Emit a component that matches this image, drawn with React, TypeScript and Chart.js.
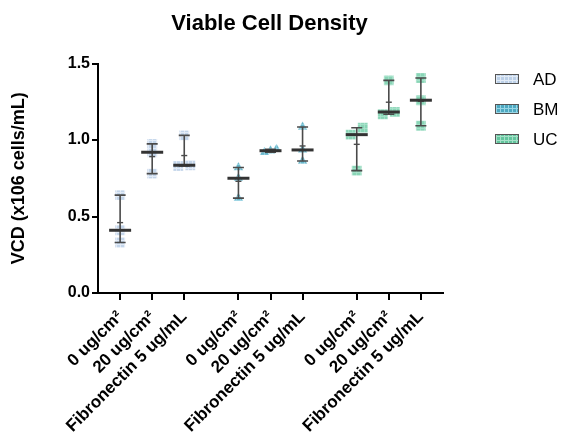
import React, { useEffect, useRef } from 'react';
import { Chart, registerables } from 'chart.js';

Chart.register(...registerables);

const FONT = "'Liberation Sans', Arial, Helvetica, sans-serif";

const CHART_TITLE = 'Viable Cell Density';
const Y_TITLE = 'VCD (x106 cells/mL)';
const SERIES = ['AD', 'BM', 'UC'];
const CATEGORY_LABELS = ['0 ug/cm²', '20 ug/cm²', 'Fibronectin 5 ug/mL'];
const Y_TICKS = [0, 0.5, 1.0, 1.5];

// replicate values per category (0 ug/cm², 20 ug/cm², Fibronectin)
const AD_VALUES = [
  [0.64, 0.41, 0.33],
  [0.975, 0.92, 0.78],
  [1.03, 0.835, 0.83],
];
const BM_VALUES = [
  [0.82, 0.75, 0.62],
  [0.94, 0.93, 0.92],
  [1.085, 0.935, 0.863],
];
const UC_VALUES = [
  [1.08, 1.035, 0.8],
  [1.39, 1.168, 1.183],
  [1.405, 1.26, 1.093],
];

const SERIES_VALUES = [AD_VALUES, BM_VALUES, UC_VALUES];

// styles
const GROUP_GAP = 0.69;
const JITTER_SPREAD = 0.375;
const JITTER_THRESHOLD = 0.05;
const STYLES = [
  { base: 'rgba(188,208,232,0.9)', line: 'rgba(228,236,247,0.9)', legendBase: '#bcd0e8', legendLine: '#e2ebf6', shape: 'rect', radius: 7 },
  { base: 'rgba(78,169,193,0.85)', line: 'rgba(150,212,228,0.85)', legendBase: '#4ea9c1', legendLine: '#98d6e6', shape: 'triangle', radius: 5.5 },
  { base: 'rgba(108,202,164,0.8)', line: 'rgba(170,228,205,0.8)', legendBase: '#63c59d', legendLine: '#a5e0c8', shape: 'rect', radius: 7 },
];

const groupX = (s: number, i: number) => s * (CATEGORY_LABELS.length + GROUP_GAP) + i;

function jitterOffsets(vals: number[]): number[] {
  const idx = vals.map((v, i) => i).sort((a, b) => vals[a] - vals[b]);
  const offs = new Array(vals.length).fill(0);
  let start = 0;
  for (let k = 1; k <= idx.length; k++) {
    if (k === idx.length || vals[idx[k]] - vals[idx[k - 1]] >= JITTER_THRESHOLD) {
      const n = k - start;
      if (n > 1) {
        for (let j = 0; j < n; j++) offs[idx[start + j]] = (j / (n - 1) - 0.5) * JITTER_SPREAD;
      }
      start = k;
    }
  }
  return offs;
}

function stats(vals: number[]) {
  const s = [...vals].sort((a, b) => a - b);
  const n = s.length;
  const median = n % 2 ? s[(n - 1) / 2] : (s[n / 2 - 1] + s[n / 2]) / 2;
  const mean = s.reduce((a, b) => a + b, 0) / n;
  return { min: s[0], max: s[n - 1], median, mean };
}

export default function App() {
  const ref = useRef<HTMLCanvasElement | null>(null);

  useEffect(() => {
    const canvas = ref.current!;
    const ctx0 = canvas.getContext('2d')!;
    const makePattern = (base: string, line: string) => {
      const c = document.createElement('canvas');
      c.width = 4;
      c.height = 4;
      const g = c.getContext('2d')!;
      g.fillStyle = base;
      g.fillRect(0, 0, 4, 4);
      g.fillStyle = line;
      g.fillRect(0, 0, 4, 1);
      g.fillRect(0, 0, 1, 4);
      return ctx0.createPattern(c, 'repeat')!;
    };
    const pointPatterns = STYLES.map((st) => makePattern(st.base, st.line));
    const legendPatterns = STYLES.map((st) => makePattern(st.legendBase, st.legendLine));

    const datasets = SERIES.map((name, s) => {
      const data: { x: number; y: number }[] = [];
      SERIES_VALUES[s].forEach((vals, i) => {
        const offs = jitterOffsets(vals);
        vals.forEach((v, k) => data.push({ x: groupX(s, i) + offs[k], y: v }));
      });
      return {
        label: name,
        data,
        showLine: false,
        pointStyle: STYLES[s].shape as any,
        pointRadius: STYLES[s].radius,
        pointBackgroundColor: pointPatterns[s],
        pointBorderColor: 'rgba(255,255,255,0.4)',
        pointBorderWidth: 0.5,
      };
    });

    const tickPositions: number[] = [];
    const tickLabels: string[] = [];
    SERIES.forEach((_, s) =>
      CATEGORY_LABELS.forEach((lab, i) => {
        tickPositions.push(groupX(s, i));
        tickLabels.push(lab);
      })
    );
    const xMin = -GROUP_GAP;
    const xMax = groupX(SERIES.length - 1, CATEGORY_LABELS.length - 1) + GROUP_GAP;

    const overlay = {
      id: 'overlay',
      afterDatasetsDraw(chart: any) {
        const { ctx, scales } = chart;
        const xs = scales.x;
        const ys = scales.y;
        ctx.save();
        SERIES_VALUES.forEach((groups, s) => {
          groups.forEach((vals, i) => {
            const st = stats(vals);
            const px = xs.getPixelForValue(groupX(s, i));
            const yMin = ys.getPixelForValue(st.min);
            const yMax = ys.getPixelForValue(st.max);
            ctx.strokeStyle = '#4a4a4a';
            ctx.lineWidth = 1.6;
            ctx.beginPath();
            ctx.moveTo(px, yMin);
            ctx.lineTo(px, yMax);
            ctx.moveTo(px - 5.5, yMin);
            ctx.lineTo(px + 5.5, yMin);
            ctx.moveTo(px - 5.5, yMax);
            ctx.lineTo(px + 5.5, yMax);
            ctx.stroke();
            const yMean = ys.getPixelForValue(st.mean);
            ctx.lineWidth = 1.4;
            ctx.beginPath();
            ctx.moveTo(px - 3, yMean);
            ctx.lineTo(px + 3, yMean);
            ctx.stroke();
            const yMed = ys.getPixelForValue(st.median);
            ctx.strokeStyle = '#333333';
            ctx.lineWidth = 3;
            ctx.beginPath();
            ctx.moveTo(px - 11, yMed);
            ctx.lineTo(px + 11, yMed);
            ctx.stroke();
          });
        });
        ctx.restore();
      },
      afterDraw(chart: any) {
        const { ctx } = chart;
        ctx.save();
        ctx.fillStyle = '#000';
        ctx.font = `bold 22px ${FONT}`;
        ctx.textAlign = 'center';
        ctx.textBaseline = 'middle';
        ctx.fillText(CHART_TITLE, 269.5, 24);
        ctx.font = `17px ${FONT}`;
        ctx.textAlign = 'left';
        SERIES.forEach((name, s) => {
          const cy = 79 + s * 30;
          ctx.fillStyle = legendPatterns[s];
          ctx.fillRect(495, cy - 5, 24, 10);
          ctx.strokeStyle = '#555';
          ctx.lineWidth = 1;
          ctx.strokeRect(495.5, cy - 4.5, 23, 9);
          ctx.fillStyle = '#000';
          ctx.fillText(name, 533, cy + 1);
        });
        ctx.restore();
      },
    };

    const chart = new Chart(canvas, {
      type: 'scatter',
      data: { datasets: datasets as any },
      options: {
        animation: false,
        responsive: false,
        layout: { padding: { top: 63.5, right: 120, left: 0, bottom: 0 } },
        plugins: {
          legend: { display: false },
          title: { display: false },
          tooltip: { enabled: false },
        },
        scales: {
          x: {
            type: 'linear',
            min: xMin,
            max: xMax,
            afterBuildTicks: (scale: any) => {
              scale.ticks = tickPositions.map((v) => ({ value: v }));
            },
            afterFit: (scale: any) => {
              scale.height = 140;
            },
            ticks: {
              autoSkip: false,
              minRotation: 45,
              maxRotation: 45,
              color: '#000',
              padding: 7,
              font: { family: FONT, size: 17, weight: 'bold' },
              callback: (_v: any, index: number) => tickLabels[index],
            },
            grid: {
              display: true,
              drawOnChartArea: false,
              drawTicks: true,
              tickLength: 7,
              color: '#000',
              lineWidth: 2,
            },
            border: { display: true, color: '#000', width: 2 },
          },
          y: {
            type: 'linear',
            min: 0,
            max: 1.5,
            afterBuildTicks: (scale: any) => {
              scale.ticks = Y_TICKS.map((v) => ({ value: v }));
            },
            afterFit: (scale: any) => {
              scale.width = 98;
            },
            ticks: {
              color: '#000',
              padding: 2,
              font: { family: FONT, size: 16, weight: 'bold' },
              callback: (v: any) => Number(v).toFixed(1),
            },
            grid: {
              display: true,
              drawOnChartArea: false,
              drawTicks: true,
              tickLength: 6,
              color: '#000',
              lineWidth: 2,
            },
            border: { display: true, color: '#000', width: 2 },
            title: {
              display: true,
              text: Y_TITLE,
              color: '#000',
              font: { family: FONT, size: 18, weight: 'bold' },
              padding: { top: 8, bottom: 0 },
            },
          },
        },
      },
      plugins: [overlay],
    });
    return () => chart.destroy();
  }, []);

  return (
    <div style={{ position: 'fixed', left: 0, top: 0, width: 563, height: 433, background: '#fff' }}>
      <canvas ref={ref} width={563} height={433} style={{ width: 563, height: 433, display: 'block' }} />
    </div>
  );
}
